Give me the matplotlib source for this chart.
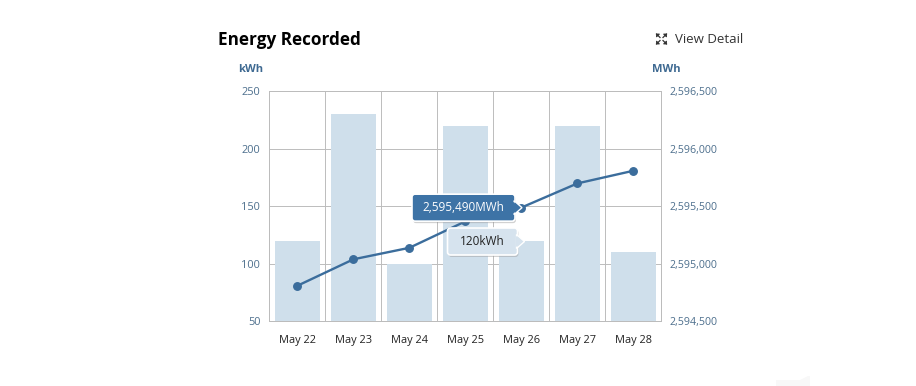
import matplotlib
matplotlib.use("Agg")
import matplotlib.pyplot as plt
from matplotlib.patches import FancyBboxPatch, Polygon
from matplotlib.ticker import FuncFormatter

plt.rcParams["font.family"] = ["Open Sans", "DejaVu Sans"]

# data
days = ["May 22", "May 23", "May 24", "May 25", "May 26", "May 27", "May 28"]
kwh = [120, 230, 100, 220, 120, 220, 110]
mwh = [2594810, 2595040, 2595140, 2595370, 2595490, 2595700, 2595810]
kwh_ticks = [50, 100, 150, 200, 250]
mwh_ticks = [2594500, 2595000, 2595500, 2596000, 2596500]
tip_index = 4

W, H = 916, 386
BAR_COLOUR = "#cfdfeb"
LINE_COLOUR = "#3b6d9c"
GRID_COLOUR = "#bcbcbc"
TICK_COLOUR = "#4d6f8d"
UNIT_COLOUR = "#3f6a92"
TIP_BLUE = "#3d73a6"
TIP_LIGHT = "#d6e3ee"


def px(x, y):
    # y measured from the top of the image
    return x / W, 1 - y / H


def tooltip(fig, tip_x, tip_y, width, height, text, face, colour, size):
    # box to the left of an arrow tip, all in display pixels
    right = tip_x - 7
    left = right - width
    bottom = tip_y - height / 2
    shadow = FancyBboxPatch(
        (left + 1, bottom - 2), width, height,
        boxstyle="round,pad=0,rounding_size=3",
        fc="#9a9a9a", ec="none", alpha=0.45, transform=None, zorder=9,
    )
    box = FancyBboxPatch(
        (left, bottom), width, height,
        boxstyle="round,pad=0,rounding_size=3",
        fc=face, ec="white", lw=1.2, transform=None, zorder=10,
    )
    arrow = Polygon(
        [(right - 1, tip_y + 7), (tip_x, tip_y), (right - 1, tip_y - 7)],
        closed=True, fc=face, ec="white", lw=1.0, transform=None, zorder=11,
    )
    arrow_fill = Polygon(
        [(right - 2, tip_y + 6), (tip_x - 2, tip_y), (right - 2, tip_y - 6)],
        closed=True, fc=face, ec="none", transform=None, zorder=12,
    )
    fig.add_artist(shadow)
    fig.add_artist(box)
    fig.add_artist(arrow)
    fig.add_artist(arrow_fill)
    fig.text(
        (left + width / 2) / W, tip_y / H, text, ha="center", va="center",
        fontsize=size, color=colour, zorder=13,
    )


fig = plt.figure(figsize=(W / 100, H / 100), dpi=100, facecolor="white")
left, top = px(269.4, 91.4)
right, bottom = px(661.4, 321.4)
ax = fig.add_axes([left, bottom, right - left, top - bottom])
ax2 = ax.twinx()

pos = list(range(len(days)))
ax.bar(pos, kwh, width=0.79, color=BAR_COLOUR, zorder=2)
ax.set_xlim(-0.5, len(days) - 0.5)
ax.set_ylim(kwh_ticks[0], kwh_ticks[-1])
ax.set_yticks(kwh_ticks)
ax.set_xticks(pos)
ax.set_xticklabels(days)
for b in pos[:-1]:
    ax.axvline(b + 0.5, color=GRID_COLOUR, lw=0.7, zorder=1)
ax.yaxis.grid(True, color=GRID_COLOUR, lw=0.7, zorder=1)
ax.set_axisbelow(True)
ax.tick_params(axis="x", length=0, pad=9.5, labelsize=7.9, labelcolor="#222222")
ax.tick_params(axis="y", length=0, pad=6.5, labelsize=7.9, labelcolor=TICK_COLOUR)

ax2.plot(pos, mwh, color=LINE_COLOUR, lw=1.7, marker="o", ms=5.4,
         mec=LINE_COLOUR, zorder=3)
ax2.set_ylim(mwh_ticks[0], mwh_ticks[-1])
ax2.set_yticks(mwh_ticks)
ax2.yaxis.set_major_formatter(FuncFormatter(lambda v, _: f"{v:,.0f}"))
ax2.tick_params(axis="y", length=0, pad=6, labelsize=7.7, labelcolor=TICK_COLOUR)

for a in (ax, ax2):
    for side, spine in a.spines.items():
        spine.set_color(GRID_COLOUR)
        spine.set_linewidth(0.7)

x, y = px(218, 40)
fig.text(x, y, "Energy Recorded", ha="left", va="center", fontsize=12.3,
         fontweight="bold", color="black")
x, y = px(251, 69)
fig.text(x, y, "kWh", ha="center", va="center", fontsize=8, fontweight="bold",
         color=UNIT_COLOUR)
x, y = px(666, 69)
fig.text(x, y, "MWh", ha="center", va="center", fontsize=8, fontweight="bold",
         color=UNIT_COLOUR)
x, y = px(675, 39.5)
fig.text(x, y, "View Detail", ha="left", va="center", fontsize=9.5, color="#333333")

# expand icon: four small corner pieces
cx, cy, s = 661.5, 39, 5
for dx, dy in [(-1, -1), (1, -1), (-1, 1), (1, 1)]:
    corner = [px(cx + dx * s, cy + dy * s), px(cx + dx * 2, cy + dy * s),
              px(cx + dx * s, cy + dy * 2)]
    fig.add_artist(Polygon(corner, closed=True, fc="#333333", ec="#333333", lw=0.6,
                           transform=fig.transFigure))
    fig.add_artist(plt.Line2D(
        [px(cx + dx * s, 0)[0], px(cx + dx * 1.5, 0)[0]],
        [px(0, cy + dy * s)[1], px(0, cy + dy * 1.5)[1]],
        color="#333333", lw=0.9, transform=fig.transFigure))

# faint smudge in the bottom right corner of the screenshot
fig.add_artist(Polygon(
    [px(776, 386), px(776, 380), px(800, 380), px(808, 376), px(810, 376), px(810, 386)],
    closed=True, fc="#f8f8f8", ec="none", transform=fig.transFigure))

# tooltips hang off the hovered point and bar
fig.canvas.draw()
tx, ty = ax2.transData.transform((pos[tip_index], mwh[tip_index]))
tooltip(fig, tx + 0.6, ty - 0.1, 103, 27, f"{mwh[tip_index]:,}MWh", TIP_BLUE, "white", 8.5)
bx, by = ax.transData.transform((pos[tip_index], kwh[tip_index]))
tooltip(fig, bx + 3.1, by - 0.6, 70, 27, f"{kwh[tip_index]}kWh", TIP_LIGHT, "#222222", 8.5)

fig.savefig("out.png", dpi=100, facecolor="white")
